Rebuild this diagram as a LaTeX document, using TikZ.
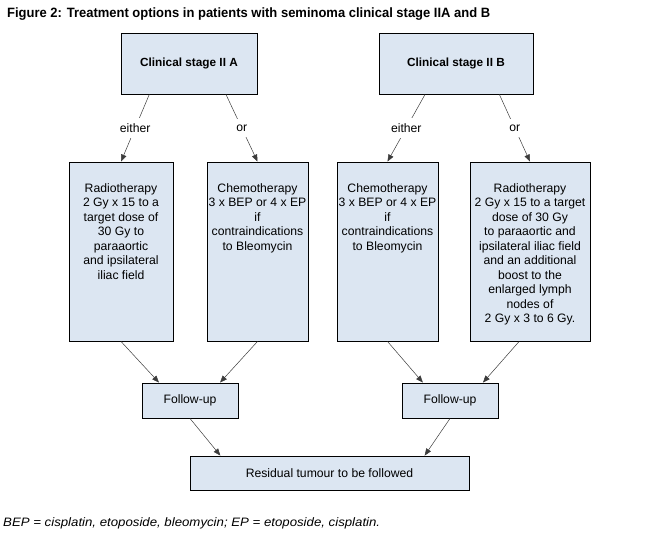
\documentclass[tikz,border=0pt]{standalone}
\usepackage{fontspec}
\setmainfont{Liberation Sans}
\usetikzlibrary{arrows.meta,calc}
\definecolor{boxfill}{RGB}{220,230,242}
\definecolor{linegray}{RGB}{60,60,60}
\begin{document}
\begin{tikzpicture}[x=1pt,y=-1pt,
  box/.style={draw=black, line width=0.9pt, fill=boxfill, inner sep=0pt, anchor=center},
  btext/.style={align=center, inner sep=0pt, anchor=north, font=\fontsize{12.2}{14.5}\selectfont},
  conn/.style={draw=linegray, line width=0.5pt, -{Triangle[length=7pt,width=5.5pt]}},
  lab/.style={fill=white, inner sep=6pt, font=\fontsize{12.2}{14.5}\selectfont, text=black},
  every node/.style={font=\fontsize{12.2}{14.5}\selectfont}]
\useasboundingbox (0,0) rectangle (655,536);
% title
\node[anchor=base west, inner sep=0pt] (title) at (7,17)
  {\resizebox{483pt}{\height}{\fontsize{13.5}{15}\selectfont\bfseries Figure 2: Treatment options in patients with seminoma clinical stage IIA and B}};
% top boxes
\node[box, minimum width=136pt, minimum height=61pt] (IIA) at (189,63.5)
  {\fontsize{11.8}{14}\selectfont\bfseries Clinical stage II A};
\node[box, minimum width=154pt, minimum height=61pt] (IIB) at (456,63.5)
  {\fontsize{11.8}{14}\selectfont\bfseries Clinical stage II B};
% option boxes
\node[box, minimum width=104pt, minimum height=179pt] (B1) at (121,251.5) {};
\node[box, minimum width=101pt, minimum height=179pt] (B2) at (257.5,251.5) {};
\node[box, minimum width=101pt, minimum height=179pt] (B3) at (387.5,251.5) {};
\node[box, minimum width=120pt, minimum height=179pt] (B4) at (530,251.5) {};
\node[btext] (T1) at (121,183) {Radiotherapy\\2 Gy x 15 to a\\target dose of\\30 Gy to\\paraaortic\\and ipsilateral\\iliac field};
\node[btext] (T2) at (257.5,183) {Chemotherapy\\3 x BEP or 4 x EP\\if\\contraindications\\to Bleomycin};
\node[btext] (T3) at (387.5,183) {Chemotherapy\\3 x BEP or 4 x EP\\if\\contraindications\\to Bleomycin};
\node[btext] (T4) at (530,183) {Radiotherapy\\2 Gy x 15 to a target\\dose of 30 Gy\\to paraaortic and\\ipsilateral iliac field\\and an additional\\boost to the\\enlarged lymph\\nodes of\\2 Gy x 3 to 6 Gy.};
% follow-up
\node[box, minimum width=96pt, minimum height=35pt] (FU1) at (190,400.5) {Follow-up};
\node[box, minimum width=96pt, minimum height=35pt] (FU2) at (450,400.5) {Follow-up};
\node[box, minimum width=279pt, minimum height=34pt] (RES) at (329.5,473) {Residual tumour to be followed};
% footnote
\node[anchor=base west, inner sep=0pt] (foot) at (3,526)
  {\resizebox{377pt}{\height}{\itshape BEP = cisplatin, etoposide, bleomycin; EP = etoposide, cisplatin.}};
% connectors
\draw[conn] ($(IIA.south west)!0.21!(IIA.south east)$) -- node[lab] (l1) {either} (B1.north);
\draw[conn] ($(IIA.south west)!0.77!(IIA.south east)$) -- node[lab] (l2) {or} (B2.north);
\draw[conn] ($(IIB.south west)!0.30!(IIB.south east)$) -- node[lab] (l3) {either} (B3.north);
\draw[conn] ($(IIB.south west)!0.78!(IIB.south east)$) -- node[lab] (l4) {or} (B4.north);
\draw[conn] (B1.south) -- ($(FU1.north west)!0.18!(FU1.north east)$);
\draw[conn] (B2.south) -- ($(FU1.north west)!0.81!(FU1.north east)$);
\draw[conn] (B3.south) -- ($(FU2.north west)!0.22!(FU2.north east)$);
\draw[conn] ($(B4.south west)!0.41!(B4.south east)$) -- ($(FU2.north west)!0.84!(FU2.north east)$);
\draw[conn] (FU1.south) -- ($(RES.north west)!0.11!(RES.north east)$);
\draw[conn] (FU2.south) -- ($(RES.north west)!0.84!(RES.north east)$);
\end{tikzpicture}
\end{document}
